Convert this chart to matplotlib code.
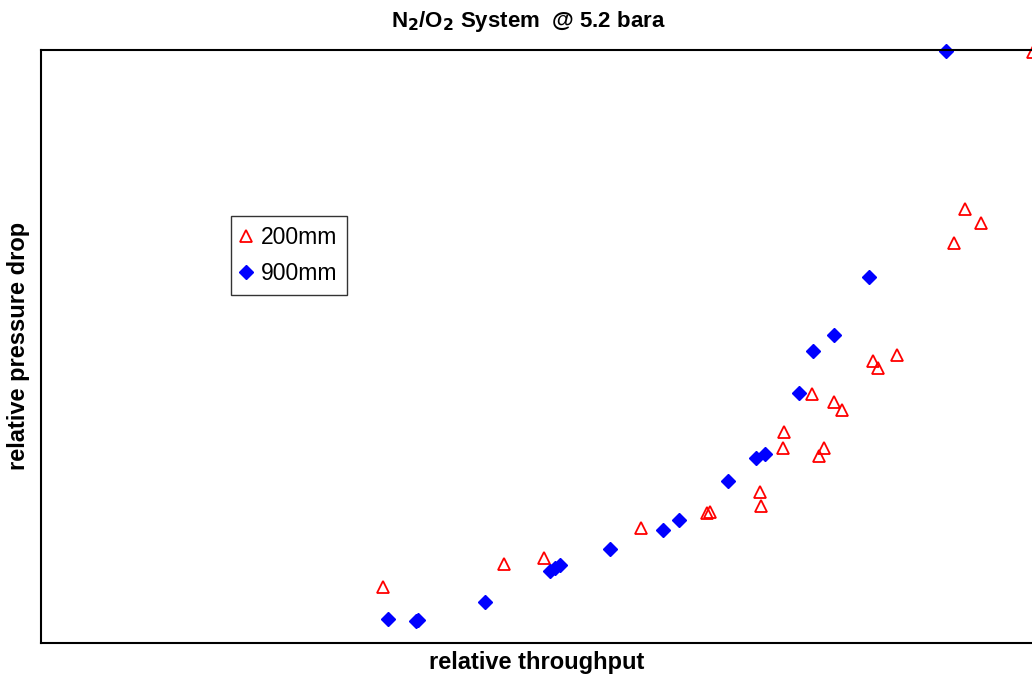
import numpy as np
import matplotlib
matplotlib.use('Agg')
import matplotlib.pyplot as plt

plt.rcParams['font.family'] = ['Liberation Sans', 'DejaVu Sans']

# relative throughput / relative pressure drop (axes run 0..1)
x_200 = [0.342, 0.463, 0.504, 0.601, 0.667, 0.670, 0.720, 0.721, 0.744, 0.743,
         0.772, 0.779, 0.784, 0.794, 0.802, 0.833, 0.838, 0.857, 0.914, 0.925,
         0.941, 0.993]
y_200 = [0.094, 0.133, 0.143, 0.194, 0.219, 0.221, 0.255, 0.231, 0.356, 0.329,
         0.420, 0.315, 0.329, 0.406, 0.393, 0.476, 0.464, 0.486, 0.675, 0.732,
         0.708, 0.997]

x_900 = [0.347, 0.375, 0.377, 0.444, 0.510, 0.515, 0.520, 0.570, 0.623, 0.639,
         0.688, 0.716, 0.725, 0.759, 0.773, 0.794, 0.829, 0.906]
y_900 = [0.040, 0.037, 0.039, 0.069, 0.121, 0.126, 0.132, 0.159, 0.191, 0.207,
         0.273, 0.312, 0.319, 0.422, 0.492, 0.519, 0.617, 0.998]

W, H = 1032, 679
fig = plt.figure(figsize=(W / 100, H / 100), dpi=100)
# plot area runs a bit past the right edge of the picture
ax = fig.add_axes([41 / W, (H - 643) / H, (1040 - 41) / W, 593 / H])

ax.plot(x_200, y_200, linestyle='none', marker='^', markersize=9,
        markerfacecolor='none', markeredgecolor='red', markeredgewidth=1.3,
        label='200mm', clip_on=False)
ax.plot(x_900, y_900, linestyle='none', marker='D', markersize=7,
        markerfacecolor='blue', markeredgecolor='blue',
        label='900mm', clip_on=False)

ax.set_xlim(0, 1)
ax.set_ylim(0, 1)
ax.set_xticks([])
ax.set_yticks([])
for s in ax.spines.values():
    s.set_linewidth(1.5)

fig.text(528 / W, 1 - 22 / H, r'N$_\mathbf{2}$/O$_\mathbf{2}$ System  @ 5.2 bara',
         ha='center', va='center', fontsize=16, fontweight='bold')
fig.text(537 / W, 1 - 663 / H, 'relative throughput', ha='center', va='center',
         fontsize=17, fontweight='bold')
fig.text(19 / W, 1 - 346 / H, 'relative pressure drop', ha='center',
         va='center', rotation=90, fontsize=17, fontweight='bold')

leg = ax.legend(loc='upper left', bbox_to_anchor=(231 / W, 1 - 216 / H),
                bbox_transform=fig.transFigure, borderaxespad=0,
                fontsize=16.5, fancybox=False, frameon=True, handlelength=0.5,
                handletextpad=0.4, borderpad=0.42, labelspacing=0.6)
leg.get_frame().set_edgecolor('black')
leg.get_frame().set_linewidth(1.0)

fig.savefig('out.png', dpi=100)
